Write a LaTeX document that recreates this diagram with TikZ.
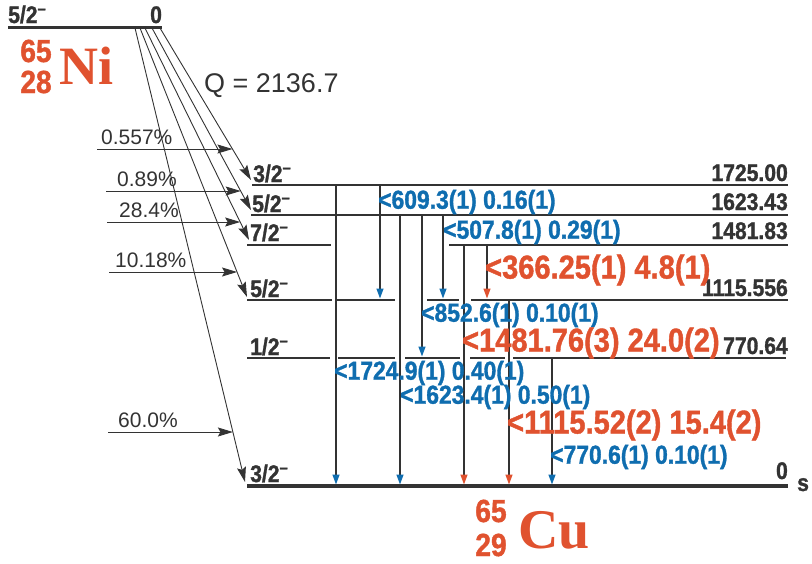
\documentclass[tikz,border=0pt]{standalone}
\usepackage{fontspec}
\setmainfont{Liberation Sans}
\newfontfamily\condsans{Liberation Sans}[FakeStretch=0.88, BoldFeatures={FakeBold=1.2}]
\newfontfamily\nucserif{Liberation Serif}
\usetikzlibrary{arrows.meta,calc}
\definecolor{lvl}{HTML}{333333}
\definecolor{nred}{HTML}{E0522F}
\definecolor{nblue}{HTML}{0F6DAF}
\newcommand{\fs}[1]{\fontsize{#1}{#1}\selectfont}

\tikzset{
  lvline/.style={draw=lvl, line width=1.8pt},
  feed/.style={draw=lvl, line width=0.9pt, -{Stealth[length=15pt,width=9pt,inset=2.5pt]}},
  gam/.style={draw=lvl, line width=1.3pt, -{Triangle[length=10pt,width=7pt,color=#1]}},
  spin/.style={anchor=base west, inner sep=0pt, text=lvl, font=\condsans\fs{24}\bfseries},
  enrg/.style={anchor=base east, inner sep=0pt, text=lvl, font=\condsans\fs{24}\bfseries},
  pct/.style={anchor=base west, inner sep=0pt, text=lvl, font=\fs{21}},
  blab/.style={anchor=west, inner sep=0pt, text=nblue, font=\condsans\fs{26}\bfseries},
  rlab/.style={anchor=west, inner sep=0pt, text=nred, font=\condsans\fs{33}\bfseries},
  nucnum/.style={inner sep=0pt, text=nred, font=\condsans\fs{32}\bfseries},
}

\begin{document}
\begin{tikzpicture}[x=1pt, y=-1pt]
    \useasboundingbox (0,0) rectangle (812,563);

    % parent
    \coordinate (niw) at (8,27);
    \coordinate (nie) at (162,27);
    \draw[lvl, line width=3pt] (niw) -- (nie);
    \node[spin] (nispin) at (8,23) {5/2\textsuperscript{–}};
    \node[spin] (nien) at (150,23) {0};
    \node[nucnum] (nia) at (36,51) {65};
    \node[nucnum] (niz) at (36,82) {28};
    \node[anchor=base west, inner sep=0pt, text=nred, font=\nucserif\fs{54}\bfseries] (nisym) at (59,84) {Ni};
    \node[anchor=base west, inner sep=0pt, text=lvl, font=\fs{27}] (qval) at (204,92) {Q = 2136.7};

    % levels
    \draw[lvline] (252,185) coordinate (l4w) -- (788,185) coordinate (l4e);
    \draw[lvline] (251,215) coordinate (l3w) -- (788,215) coordinate (l3e);
    \draw[lvline] (247,245) coordinate (l2w) -- (331,245) (449,245) -- (788,245) coordinate (l2e);
    \draw[lvline] (247,300) coordinate (l1w) -- (332,300) (337,300) -- (395,300)
        (427,300) -- (459,300) (471,300) -- (788,300) coordinate (l1e);
    \draw[lvline] (247,358) coordinate (lhw) -- (330,358) (338,358) -- (395,358)
        (405,358) -- (460,358) (470,358) -- (505,358) (513,358) -- (786,358) coordinate (lhe);
    \draw[lvl, line width=3.2pt] (247,486) coordinate (l0w) -- (788,486) coordinate (l0e);

    \node[spin] (s4) at (253,182) {3/2\textsuperscript{–}};
    \node[spin] (s3) at (252,212) {5/2\textsuperscript{–}};
    \node[spin] (s2) at (250,241) {7/2\textsuperscript{–}};
    \node[spin] (s1) at (250,297) {5/2\textsuperscript{–}};
    \node[spin] (sh) at (250,355) {1/2\textsuperscript{–}};
    \node[spin] (s0) at (250,482) {3/2\textsuperscript{–}};

    \node[enrg] (e4) at (788,181) {1725.00};
    \node[enrg] (e3) at (788,210) {1623.43};
    \node[enrg] (e2) at (788,239) {1481.83};
    \node[enrg] (e1) at (788,296) {1115.556};
    \node[enrg] (eh) at (788,354) {770.64};
    \node[enrg] (e0) at (788,479) {0};
    \node[spin] (unit) at (797,491) {s};

    % beta feeding
    \coordinate (nb0) at (135,28);
    \coordinate (nb1) at (140,28);
    \coordinate (nb2) at (145,28);
    \coordinate (nb3) at (152,28);
    \coordinate (nb4) at (160,28);
    \coordinate (be0) at (245,482);
    \coordinate (be1) at (247,297);
    \coordinate (be2) at (249,240);
    \coordinate (be3) at (251,210);
    \coordinate (be4) at (251,180);
    \foreach \i in {0,...,4}
        \draw[feed] (nb\i) -- (be\i);

    \coordinate (pf4) at (97,149);
    \coordinate (pf3) at (106,191);
    \coordinate (pf2) at (107,222);
    \coordinate (pf1) at (109,272);
    \coordinate (pf0) at (108,432);
    \coordinate (pt4) at ($(nb4)!0.796!(be4)$);
    \coordinate (pt3) at ($(nb3)!0.896!(be3)$);
    \coordinate (pt2) at ($(nb2)!0.915!(be2)$);
    \coordinate (pt1) at ($(nb1)!0.907!(be1)$);
    \coordinate (pt0) at ($(nb0)!0.890!(be0)$);
    \foreach \i in {0,...,4}
        \draw[feed] (pf\i) -- (pt\i |- pf\i);

    \node[pct] (p4) at (101,144) {0.557\%};
    \node[pct] (p3) at (117,186) {0.89\%};
    \node[pct] (p2) at (119,217) {28.4\%};
    \node[pct] (p1) at (115,267) {10.18\%};
    \node[pct] (p0) at (118,427) {60.0\%};

    % gammas
    \foreach \gx/\gt/\gb/\gc [count=\i] in {336/185/486/nblue, 380/185/300/nblue,
        400/215/486/nblue, 422/215/358/nblue, 443/215/300/nblue, 464/245/486/nred,
        487/245/300/nred, 509/300/486/nred, 552/358/486/nblue}{
        \coordinate (g\i t) at (\gx,\gt);
        \coordinate (g\i b) at (\gx,\gb-1.5);
        \draw[gam=\gc] (g\i t) -- (g\i b);
    }

    \node[blab] (t609) at (378,202) {<609.3(1) 0.16(1)};
    \node[blab] (t507) at (443,232) {<507.8(1) 0.29(1)};
    \node[rlab] (t366) at (485,270) {<366.25(1) 4.8(1)};
    \node[blab] (t852) at (421,315) {<852.6(1) 0.10(1)};
    \node[rlab] (t1481) at (462,343) {<1481.76(3) 24.0(2)};
    \node[blab] (t1724) at (334,373) {<1724.9(1) 0.40(1)};
    \node[blab] (t1623) at (400,397) {<1623.4(1) 0.50(1)};
    \node[rlab] (t1115) at (507,425) {<1115.52(2) 15.4(2)};
    \node[blab] (t770) at (550,457) {<770.6(1) 0.10(1)};

    % daughter
    \node[nucnum] (cua) at (491,511) {65};
    \node[nucnum] (cuz) at (491,545) {29};
    \node[anchor=base west, inner sep=0pt, text=nred, font=\nucserif\fs{56}\bfseries] (cusym) at (518,548) {Cu};
\end{tikzpicture}
\end{document}
